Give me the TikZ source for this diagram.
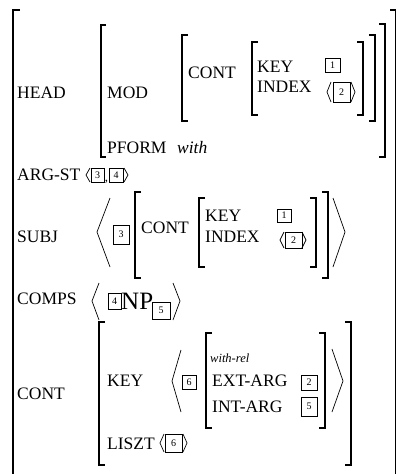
\documentclass[tikz,border=0pt]{standalone}
\usepackage{fontspec}
\setmainfont{Liberation Serif}
\usetikzlibrary{positioning}

\begin{document}
\begin{tikzpicture}[x=1pt, y=-1pt,
  feat/.style = {anchor=base west, inner sep=0pt, font=\fontsize{17.5}{20}\selectfont},
  val/.style = {anchor=base west, inner sep=0pt, font=\fontsize{17.5}{20}\selectfont\itshape},
  tag/.style = {draw, line width=0.7pt, inner sep=0pt, minimum width=15pt, minimum height=15pt, font=\fontsize{10}{11}\selectfont},
  brk/.style = {line width=1.1pt},
  ang/.style = {line width=0.7pt}]

\useasboundingbox (0,0) rectangle (396,474);

% outer matrix
\draw[brk] (20,10) -| (13,474);
\draw[brk] (390,10) -| (395.5,474);

% HEAD
\node[feat] (head) at (17,98) {HEAD};
\draw[brk] (106,25) -| (101,157) -- (106,157);
\draw[brk] (379,24) -| (385,157) -- (379,157);
\node[feat] (mod) at (107,98) {MOD};
\draw[brk] (188,35) -| (182,121) -- (188,121);
\draw[brk] (369,35) -| (375,121) -- (369,121);
\node[feat] (cont1) at (188,78) {CONT};
\draw[brk] (258,42) -| (252,115) -- (258,115);
\draw[brk] (357,42) -| (363,115) -- (357,115);
\node[feat] (key1) at (257,72) {KEY};
\node[feat] (index1) at (257,92) {INDEX};
\node[tag, minimum height=14pt] (t1a) at (332.5,65) {1};
\node[tag, minimum width=17pt, minimum height=20pt] (t2a) at (341.5,92) {2};
\draw[ang] (331,82) -- (327,92) -- (331,102);
\draw[ang] (351,82) -- (355,92) -- (351,102);
\node[feat] (pform) at (107,153) {PFORM};
\node[val] (with) at (177,153) {with};

% ARG-ST
\node[feat] (argst) at (17,180) {ARG-ST};
\draw[ang] (90,168) -- (86,175) -- (90,182);
\node[tag, minimum width=13pt, minimum height=14pt] (t3a) at (97.5,175) {3};
\node[feat, anchor=base, font=\fontsize{13}{14}\selectfont] (comma) at (106.5,181) {,};
\node[tag, minimum width=14pt, minimum height=14pt] (t4a) at (116,175) {4};
\draw[ang] (124,168) -- (128,175) -- (124,182);

% SUBJ
\node[feat] (subj) at (17,242) {SUBJ};
\draw[ang] (110,198) -- (97,232) -- (110,267);
\node[tag, minimum width=16pt, minimum height=19pt] (t3b) at (121,234.5) {3};
\draw[brk] (141,192) -| (135,278) -- (141,278);
\draw[brk] (322,192) -| (328,278) -- (322,278);
\node[feat] (cont2) at (141,233) {CONT};
\draw[brk] (205,198) -| (199,267) -- (205,267);
\draw[brk] (310,198) -| (316,267) -- (310,267);
\node[feat] (key2) at (205,221) {KEY};
\node[feat] (index2) at (205,242) {INDEX};
\node[tag, minimum width=14pt, minimum height=13pt] (t1b) at (284,215.5) {1};
\draw[ang] (284,232) -- (280,240) -- (284,248);
\node[tag, minimum width=17pt, minimum height=16pt] (t2b) at (293.5,240) {2};
\draw[ang] (302,232) -- (306,240) -- (302,248);
\draw[ang] (333,198) -- (345,232) -- (333,267);

% COMPS
\node[feat] (comps) at (17,304) {COMPS};
\draw[ang] (99,283) -- (92,301) -- (99,320);
\node[tag, minimum width=13pt, minimum height=16pt] (t4b) at (114.5,301) {4};
\node[feat, font=\fontsize{25}{28}\selectfont] (np) at (121,309) {NP};
\node[tag, minimum width=18pt, minimum height=17pt] (t5a) at (161,310.5) {5};
\draw[ang] (173,283) -- (180,301) -- (173,320);

% CONT
\node[feat] (cont3) at (17,399) {CONT};
\draw[brk] (105,322) -| (99,465) -- (105,465);
\draw[brk] (345,322) -| (351,465) -- (345,465);
\node[feat] (key3) at (107,386) {KEY};
\draw[ang] (181,350) -- (172,381) -- (181,412);
\node[tag, minimum width=14pt, minimum height=14pt] (t6a) at (189,382) {6};
\draw[brk] (212,333) -| (206,428) -- (212,428);
\draw[brk] (319,333) -| (325,428) -- (319,428);
\node[val, font=\fontsize{12.5}{14}\selectfont\itshape] (rel) at (210,362) {with-rel};
\node[feat] (extarg) at (212,386) {EXT-ARG};
\node[feat] (intarg) at (212,412) {INT-ARG};
\node[tag, minimum width=16pt, minimum height=15pt] (t2c) at (309,382.5) {2};
\node[tag, minimum width=16pt, minimum height=19pt] (t5b) at (309,406.5) {5};
\draw[ang] (332,349) -- (343,381) -- (332,412);
\node[feat] (liszt) at (107,449) {LISZT};
\draw[ang] (164,434) -- (160,443) -- (164,452);
\node[tag, minimum width=17pt, minimum height=18pt] (t6b) at (173.5,443) {6};
\draw[ang] (183,434) -- (187,443) -- (183,452);
\end{tikzpicture}
\end{document}
